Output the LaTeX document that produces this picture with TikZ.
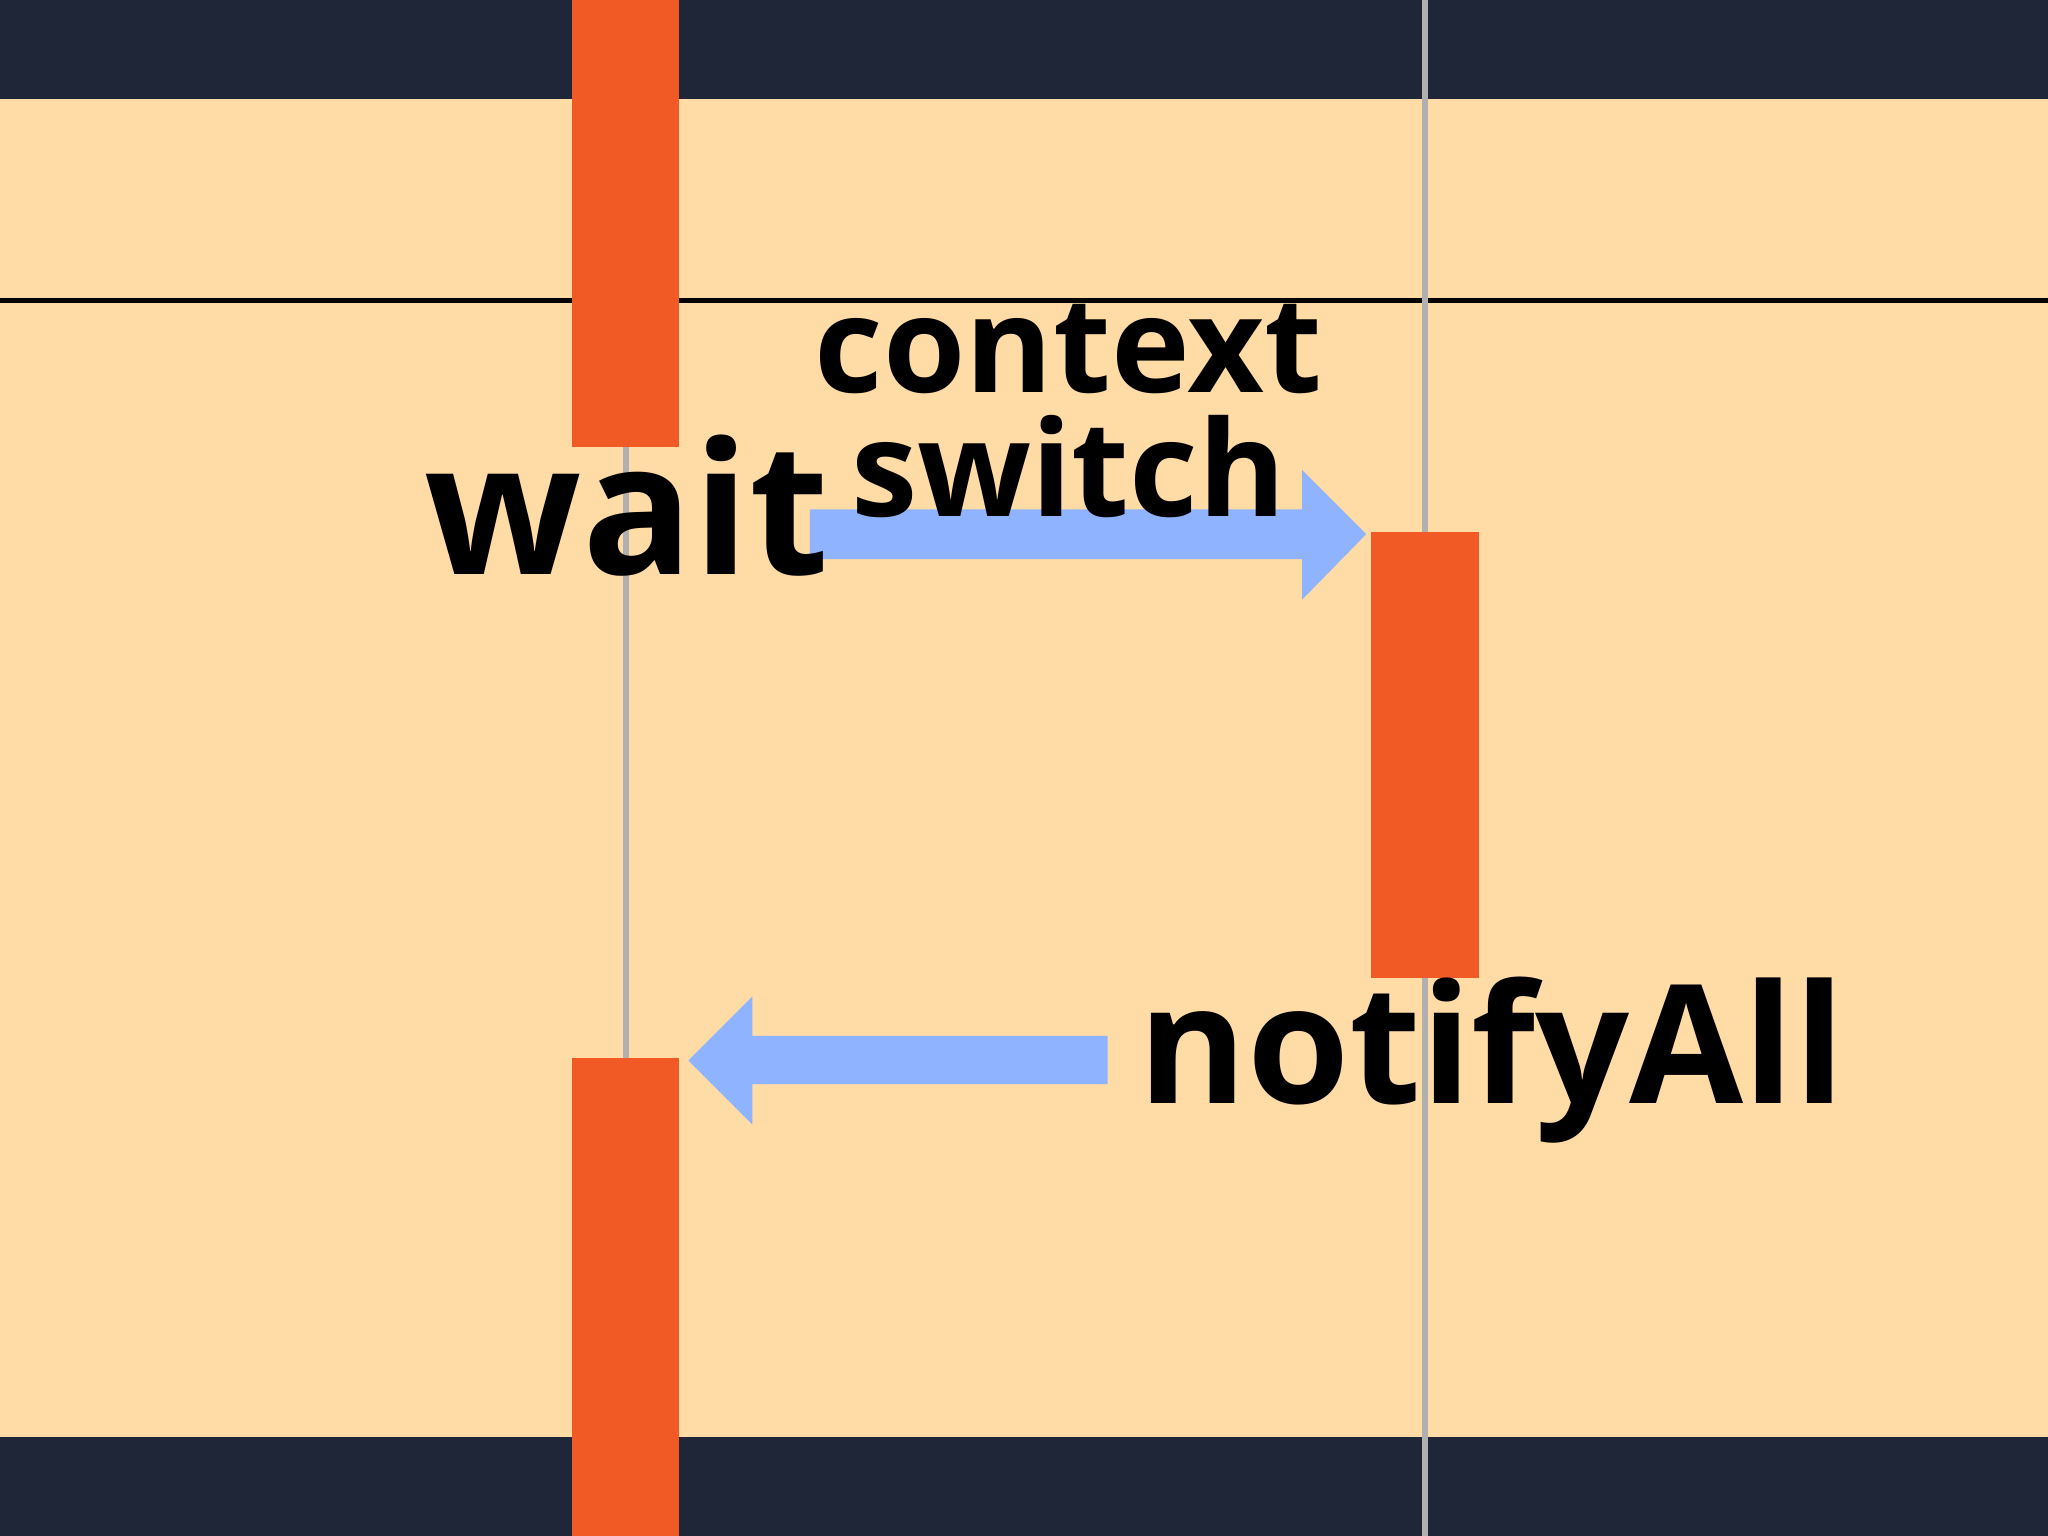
\documentclass[tikz,border=0pt]{standalone}
\usepackage{fontspec}
\setmainfont{Open Sans}
\definecolor{navy}{HTML}{1F2638}
\definecolor{beige}{HTML}{FFDBA6}
\definecolor{bar}{HTML}{F15A24}
\definecolor{arr}{HTML}{8FB3FF}
\definecolor{life}{HTML}{B0B0B0}
\begin{document}
\begin{tikzpicture}[x=0.01cm,y=-0.01cm,
  lbl/.style={font=\bfseries, text=black, inner sep=0pt},
  barbox/.style={fill=bar}]
\useasboundingbox (0,0) rectangle (1568,1176);
\fill[navy] (0,0) rectangle (1568,1176);
\fill[beige] (0,76) rectangle (1568,1100);
\draw[line width=1.2pt] (0,230) -- (1568,230);
\draw[life, line width=1.3pt] (479,0) -- (479,1176);
\draw[life, line width=1.3pt] (1091,0) -- (1091,1176);
\fill[barbox] (438,0) rectangle (520,342);
\fill[barbox] (1050,407) rectangle (1132,749);
\fill[barbox] (438,810) rectangle (520,1176);
\fill[arr] (620,390) -- (997,390) -- (997,360) -- (1046,409) -- (997,459) -- (997,428) -- (620,428) -- cycle;
\fill[arr] (848,793) -- (576,793) -- (576,763) -- (527,812) -- (576,861) -- (576,830) -- (848,830) -- cycle;
\node[lbl, font=\bfseries\fontsize{29}{27}\selectfont, align=center] (cs) at (818,315) {context\\switch};
\node[lbl, font=\bfseries\fontsize{40}{40}\selectfont, anchor=base] (wait) at (480,440) {wait};
\node[lbl, font=\bfseries\fontsize{36}{36}\selectfont, anchor=base west] (notify) at (871,845) {notifyAll};
\end{tikzpicture}
\end{document}
